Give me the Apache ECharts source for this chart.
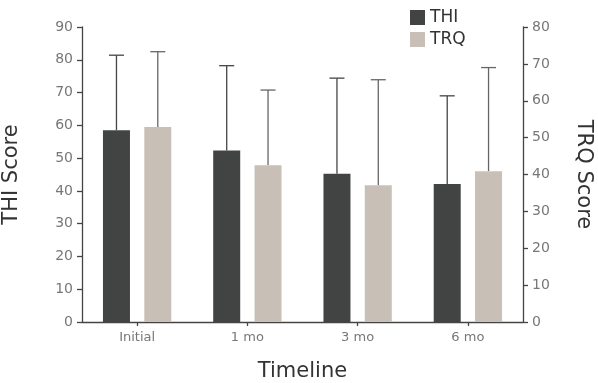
<!DOCTYPE html>
<html>
<head>
<meta charset="utf-8">
<script src="https://cdn.jsdelivr.net/npm/echarts@6/dist/echarts.min.js"></script>
<style>
  html, body { margin: 0; padding: 0; background: #fff; }
  #chart { width: 598px; height: 383px; }
</style>
</head>
<body>
<div id="chart"></div>
<script>
// Timeline categories
const categories = ['Initial', '1 mo', '3 mo', '6 mo'];
// THI score: mean and upper end of whisker (left axis)
const thiMean = [58.5, 52.3, 45.2, 42.1];
const thiUpper = [81.4, 78.2, 74.4, 69.0];
// TRQ score: mean and upper end of whisker (right axis)
const trqMean = [52.9, 42.5, 37.1, 40.9];
const trqUpper = [73.3, 62.9, 65.7, 69.0];

const TITLE_FONT = '"DejaVu Sans", sans-serif';
const LABEL_FONT = '"DejaVu Sans", sans-serif';
const THI_COLOR = '#424443';
const TRQ_COLOR = '#c8c0b6';
const BAR_W = 0.245;   // bar width as share of the category band
const BAR_GAP = 0.53;  // gap between bars as share of bar width

// Upper whisker with cap, positioned over its bar
function whisker(upper, means, side, color) {
  return {
    type: 'custom',
    yAxisIndex: side < 0 ? 0 : 1,
    z: 1,
    data: upper.map((u, i) => [i, means[i], u]),
    renderItem: function (params, api) {
      const band = api.size([1, 0])[0];
      const bw = band * BAR_W;
      const off = side * bw * (1 + BAR_GAP) / 2;
      const base = api.coord([api.value(0), api.value(1)]);
      const top = api.coord([api.value(0), api.value(2)]);
      const x = base[0] + off;
      const cap = 7.5;
      return {
        type: 'group',
        children: [
          { type: 'line', shape: { x1: x, y1: base[1], x2: x, y2: top[1] },
            style: { stroke: color, lineWidth: 1.3 } },
          { type: 'line', shape: { x1: x - cap, y1: top[1], x2: x + cap, y2: top[1] },
            style: { stroke: color, lineWidth: 1.3 } }
        ]
      };
    }
  };
}

const axisLabel = { color: '#777', fontFamily: LABEL_FONT, fontSize: 14 };
const axisLine = { show: true, lineStyle: { color: '#444', width: 1.3 } };
const axisTick = { show: true, length: 5, lineStyle: { color: '#444', width: 1.3 } };
const nameStyle = { color: '#333', fontFamily: TITLE_FONT, fontSize: 21 };

const chart = echarts.init(document.getElementById('chart'), null, { renderer: 'canvas' });
chart.setOption({
  animation: false,
  backgroundColor: '#fff',
  grid: { left: 82, right: 75, top: 27, bottom: 61, outerBoundsMode: 'none', containLabel: false },
  legend: {
    orient: 'vertical',
    left: 410, top: 9,
    padding: 0,
    itemWidth: 15, itemHeight: 15, itemGap: 5,
    icon: 'rect',
    data: ['THI', 'TRQ'],
    textStyle: { color: '#333', fontFamily: TITLE_FONT, fontSize: 17, lineHeight: 15 }
  },
  xAxis: {
    type: 'category',
    data: categories,
    name: 'Timeline',
    nameLocation: 'middle',
    nameGap: 39,
    nameTextStyle: nameStyle,
    axisLine: axisLine,
    axisTick: { show: true, alignWithLabel: true, length: 4, lineStyle: { color: '#444', width: 1.3 } },
    axisLabel: Object.assign({}, axisLabel, { fontSize: 13, margin: 9 }),
    splitLine: { show: false }
  },
  yAxis: [
    {
      type: 'value', min: 0, max: 90, interval: 10,
      name: 'THI Score', nameLocation: 'middle', nameGap: 60, nameRotate: 90,
      nameTextStyle: nameStyle,
      axisLine: axisLine, axisTick: axisTick,
      axisLabel: Object.assign({}, axisLabel, { margin: 9 }),
      splitLine: { show: false }
    },
    {
      type: 'value', min: 0, max: 80, interval: 10, position: 'right',
      name: 'TRQ Score', nameLocation: 'middle', nameGap: 50, nameRotate: -90,
      nameTextStyle: nameStyle,
      axisLine: axisLine, axisTick: axisTick,
      axisLabel: Object.assign({}, axisLabel, { margin: 9 }),
      splitLine: { show: false }
    }
  ],
  series: [
    { name: 'THI', type: 'bar', yAxisIndex: 0, data: thiMean,
      barWidth: (BAR_W * 100) + '%', barGap: (BAR_GAP * 100) + '%',
      itemStyle: { color: THI_COLOR }, z: 2 },
    { name: 'TRQ', type: 'bar', yAxisIndex: 1, data: trqMean,
      barWidth: (BAR_W * 100) + '%', barGap: (BAR_GAP * 100) + '%',
      itemStyle: { color: TRQ_COLOR }, z: 2 },
    whisker(thiUpper, thiMean, -1, '#444'),
    whisker(trqUpper, trqMean, 1, '#666')
  ]
});
</script>
</body>
</html>
